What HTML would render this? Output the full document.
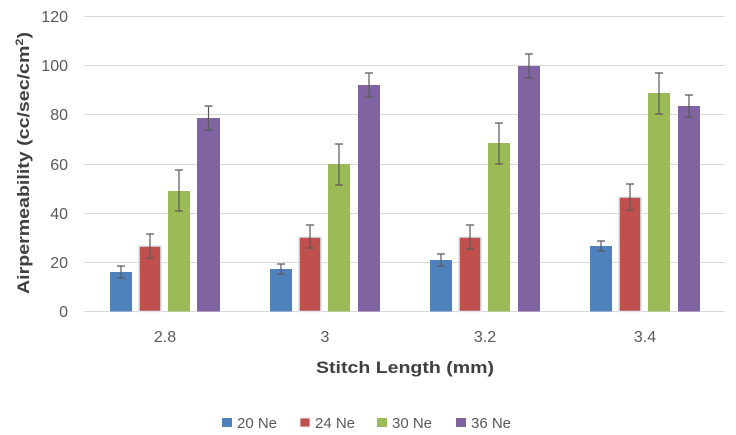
<!DOCTYPE html>
<html><head><meta charset="utf-8"><style>body{margin:0;background:#fff}svg{display:block;font-family:"Liberation Sans",sans-serif}</style></head><body>
<svg width="736" height="435" viewBox="0 0 736 435" xmlns="http://www.w3.org/2000/svg">
<rect width="736" height="435" fill="#fff"/>
<g stroke="#d9d9d9" stroke-width="1">
<line x1="84" x2="725" y1="16.5" y2="16.5"/><line x1="84" x2="725" y1="65.5" y2="65.5"/><line x1="84" x2="725" y1="114.5" y2="114.5"/><line x1="84" x2="725" y1="164.5" y2="164.5"/><line x1="84" x2="725" y1="213.5" y2="213.5"/><line x1="84" x2="725" y1="262.5" y2="262.5"/><line x1="84" x2="725" y1="311.5" y2="311.5"/>
</g>
<g font-size="16" fill="#595959" text-anchor="end">
<text x="68" y="22">120</text><text x="68" y="71">100</text><text x="68" y="120">80</text><text x="68" y="170">60</text><text x="68" y="219">40</text><text x="68" y="268">20</text><text x="68" y="317">0</text>
</g>
<text transform="translate(29,163) rotate(-90)" text-anchor="middle" font-size="17" font-weight="bold" fill="#404040" textLength="262" lengthAdjust="spacingAndGlyphs">Airpermeability (cc/sec/cm<tspan font-size="11" dy="-6">2</tspan><tspan dy="6">)</tspan></text>
<g font-size="16" fill="#595959" text-anchor="middle">
<text x="165" y="342">2.8</text><text x="325" y="342">3</text><text x="485" y="342">3.2</text><text x="645" y="342">3.4</text>
</g>
<text x="405" y="373" text-anchor="middle" font-size="17" font-weight="bold" fill="#404040" textLength="178" lengthAdjust="spacingAndGlyphs">Stitch Length (mm)</text>
<g>
<rect x="110" y="272" width="22" height="39.5" fill="#4f81bd"/>
<rect x="139" y="246" width="22" height="65.5" fill="#c0504d" stroke="#dce6f2" stroke-width="1.5"/>
<rect x="168" y="191" width="22" height="120.5" fill="#9bbb59"/>
<rect x="197" y="118" width="23" height="193.5" fill="#8064a2"/>
<rect x="270" y="269" width="22" height="42.5" fill="#4f81bd"/>
<rect x="299" y="237" width="22" height="74.5" fill="#c0504d" stroke="#dce6f2" stroke-width="1.5"/>
<rect x="328" y="164" width="22" height="147.5" fill="#9bbb59"/>
<rect x="358" y="85" width="22" height="226.5" fill="#8064a2"/>
<rect x="430" y="260" width="22" height="51.5" fill="#4f81bd"/>
<rect x="459" y="237" width="22" height="74.5" fill="#c0504d" stroke="#dce6f2" stroke-width="1.5"/>
<rect x="488" y="143" width="22" height="168.5" fill="#9bbb59"/>
<rect x="518" y="66" width="22" height="245.5" fill="#8064a2"/>
<rect x="590" y="246" width="22" height="65.5" fill="#4f81bd"/>
<rect x="619" y="197" width="22" height="114.5" fill="#c0504d" stroke="#dce6f2" stroke-width="1.5"/>
<rect x="648" y="93" width="22" height="218.5" fill="#9bbb59"/>
<rect x="678" y="106" width="22" height="205.5" fill="#8064a2"/>
</g>
<g stroke="#595959" stroke-width="1.2" fill="none">
<path d="M121 266v12M117 266h8M117 278h8"/>
<path d="M150 234v24M146 234h8M146 258h8"/>
<path d="M179 170v41M175 170h8M175 211h8"/>
<path d="M208.5 106v24M204.5 106h8M204.5 130h8"/>
<path d="M281 264v10M277 264h8M277 274h8"/>
<path d="M310 225v23M306 225h8M306 248h8"/>
<path d="M339 144v41M335 144h8M335 185h8"/>
<path d="M369 73v24M365 73h8M365 97h8"/>
<path d="M441 254v12M437 254h8M437 266h8"/>
<path d="M470 225v24M466 225h8M466 249h8"/>
<path d="M499 123v41M495 123h8M495 164h8"/>
<path d="M529 54v24M525 54h8M525 78h8"/>
<path d="M601 241v10M597 241h8M597 251h8"/>
<path d="M630 184v26M626 184h8M626 210h8"/>
<path d="M659 73v41M655 73h8M655 114h8"/>
<path d="M689 95v22M685 95h8M685 117h8"/>
</g>
<g font-size="15" fill="#595959">
<rect x="222" y="418" width="10" height="9" fill="#4f81bd"/><text x="237" y="428">20 Ne</text>
<rect x="300" y="418" width="10" height="9" fill="#c0504d" stroke="#dce6f2"/><text x="315" y="428">24 Ne</text>
<rect x="377" y="418" width="10" height="9" fill="#9bbb59"/><text x="392" y="428">30 Ne</text>
<rect x="456" y="418" width="10" height="9" fill="#8064a2"/><text x="471" y="428">36 Ne</text>
</g>
</svg>
</body></html>
